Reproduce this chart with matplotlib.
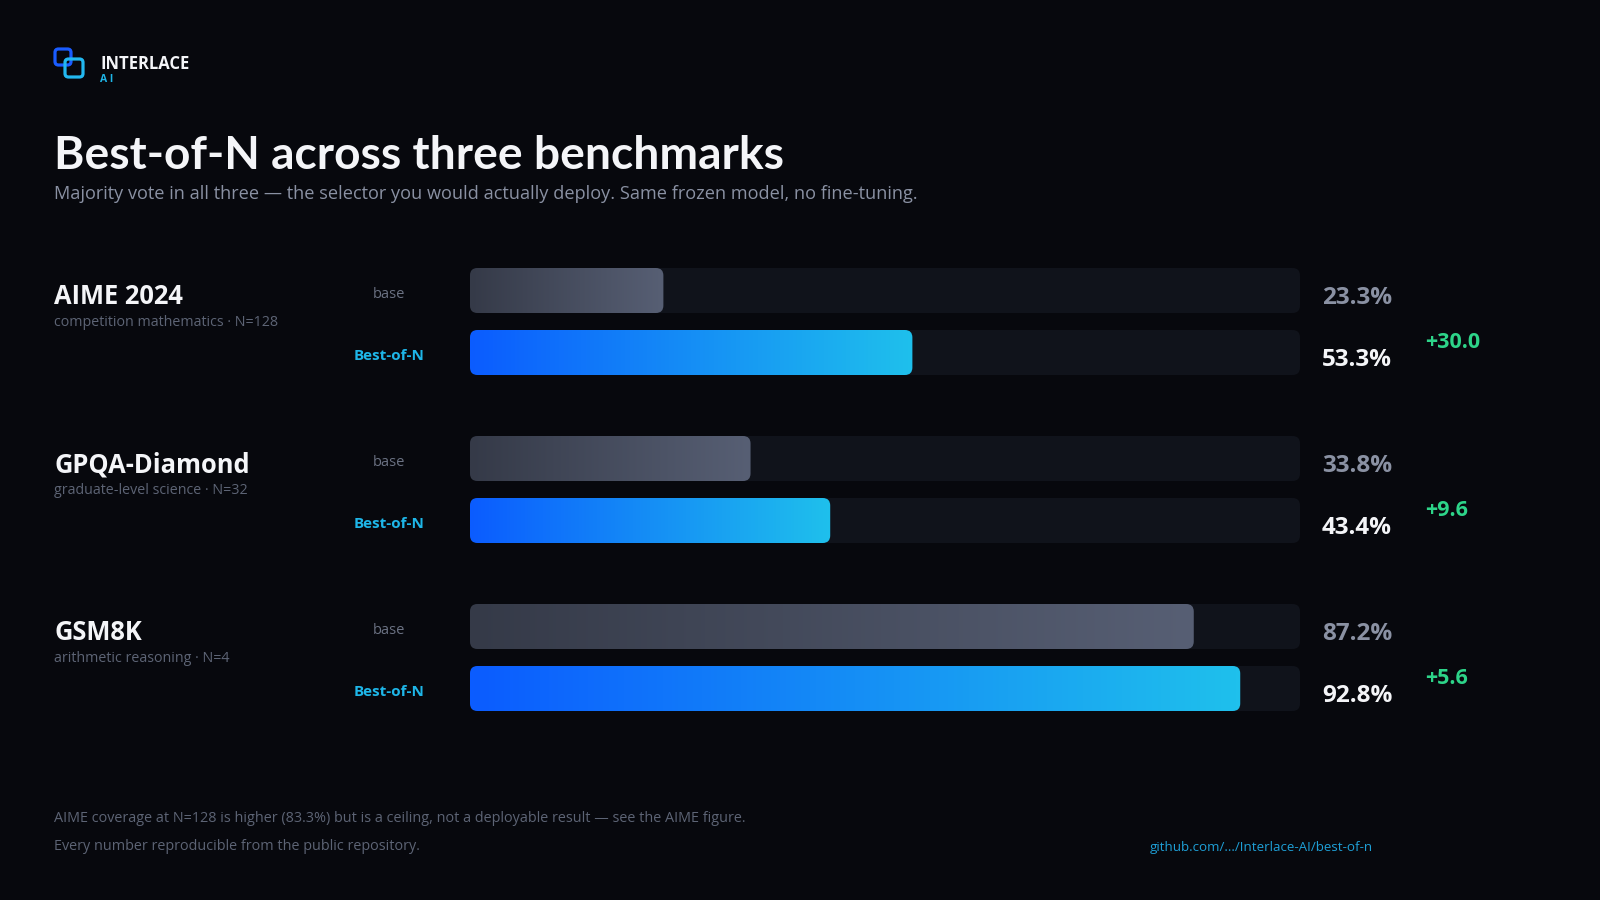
import matplotlib
import matplotlib.pyplot as plt
import numpy as np
from matplotlib.colors import LinearSegmentedColormap
from matplotlib.patches import FancyBboxPatch

matplotlib.use("Agg")

benchmarks = ["AIME 2024", "GPQA-Diamond", "GSM8K"]
descriptions = [
    "competition mathematics · N=128",
    "graduate-level science · N=32",
    "arithmetic reasoning · N=4",
]
base_scores = [23.3, 33.8, 87.2]
bestofn_scores = [53.3, 43.4, 92.8]

BG = "#07080d"
TRACK = "#10131b"
FONT = ["Open Sans", "DejaVu Sans"]

plt.rcParams["font.family"] = FONT

base_cmap = LinearSegmentedColormap.from_list("base", ["#353a48", "#575f74"])
best_cmap = LinearSegmentedColormap.from_list("best", ["#0b5cff", "#1fc0ec"])

fig = plt.figure(figsize=(16, 9), dpi=100, facecolor=BG)

# full-figure axes in pixel coords for text / decoration
ax_bg = fig.add_axes([0, 0, 1, 1])
ax_bg.set_xlim(0, 1600)
ax_bg.set_ylim(900, 0)
ax_bg.axis("off")
ax_bg.set_facecolor(BG)

# bar axes: x in percent, y in pixels from top
ax = fig.add_axes([470 / 1600, 0, 830 / 1600, 1])
ax.set_xlim(0, 100)
ax.set_ylim(900, 0)
ax.axis("off")
ax.patch.set_alpha(0)

px_per_unit = 830 / 100
radius = 7.5 / px_per_unit


def rounded(x, y, w, h, color):
    return FancyBboxPatch(
        (x, y), w, h,
        boxstyle=f"round,pad=0,rounding_size={radius}",
        mutation_aspect=px_per_unit,
        facecolor=color, edgecolor="none",
    )


def gradient_bar(value, y0, h, cmap):
    grad = np.linspace(0, 1, 256).reshape(1, -1)
    im = ax.imshow(grad, cmap=cmap, extent=(0, value, y0 + h, y0),
                   aspect="auto", interpolation="bilinear", zorder=2)
    clip = rounded(0, y0, value, h, "none")
    ax.add_patch(clip)
    clip.set_visible(False)
    im.set_clip_path(clip)


bar_h = 45
for i, name in enumerate(benchmarks):
    y0 = 268 + i * 168
    y1 = y0 + 62
    for yy in (y0, y1):
        ax.add_patch(rounded(0, yy, 100, bar_h, TRACK))
    gradient_bar(base_scores[i], y0, bar_h, base_cmap)
    gradient_bar(bestofn_scores[i], y1, bar_h, best_cmap)

    ax_bg.text(54, y0 + 29, name, color="#f4f5f8", fontsize=18.4,
               fontweight="bold", va="center", ha="left")
    ax_bg.text(54, y0 + 54, descriptions[i], color="#5d6475", fontsize=10.3,
               va="center", ha="left")
    ax_bg.text(389, y0 + 27, "base", color="#6b7283", fontsize=10.5,
               va="center", ha="center")
    ax_bg.text(389, y1 + 26, "Best-of-N", color="#1eb6e8", fontsize=11,
               fontweight="bold", va="center", ha="center")
    ax_bg.text(1322, y0 + 30, f"{base_scores[i]:.1f}%", color="#8a91a3",
               fontsize=17.5, fontweight="bold", va="center", ha="left")
    ax_bg.text(1322, y1 + 30, f"{bestofn_scores[i]:.1f}%", color="#f4f5f8",
               fontsize=17.5, fontweight="bold", va="center", ha="left")
    delta = bestofn_scores[i] - base_scores[i]
    ax_bg.text(1425, y0 + 74, f"+{delta:.1f}", color="#2dd489",
               fontsize=15.5, fontweight="bold", va="center", ha="left")

# logo
ax_bg.add_patch(FancyBboxPatch((55, 49), 16, 16,
                               boxstyle="round,pad=0,rounding_size=3.5",
                               facecolor="none", edgecolor="#1a5cff", lw=2.3))
ax_bg.add_patch(FancyBboxPatch((65, 59), 18, 18,
                               boxstyle="round,pad=0,rounding_size=3.5",
                               facecolor="none", edgecolor="#22b8f0", lw=2.3))
ax_bg.text(100, 64, "INTERLACE", color="#f4f5f8", fontsize=12,
           fontweight="bold", va="center", ha="left")
ax_bg.text(100, 80, "A I", color="#1eb6e8", fontsize=7.5,
           fontweight="bold", va="center", ha="left")

# title
ax_bg.text(54, 156, "Best-of-N across three benchmarks", color="#f4f5f8",
           fontsize=33.2, fontweight="bold", va="center", ha="left",
           family=["Lato", "DejaVu Sans"])
ax_bg.text(54, 194, "Majority vote in all three \u2014 the selector you would "
           "actually deploy. Same frozen model, no fine-tuning.",
           color="#8a91a3", fontsize=13.1, va="center", ha="left")

# footer
ax_bg.text(54, 819, "AIME coverage at N=128 is higher (83.3%) but is a ceiling, "
           "not a deployable result \u2014 see the AIME figure.",
           color="#5d6475", fontsize=10.35, va="center", ha="left")
ax_bg.text(54, 847, "Every number reproducible from the public repository.",
           color="#5d6475", fontsize=10.35, va="center", ha="left")
ax_bg.text(1150, 847, "github.com/.../Interlace-AI/best-of-n",
           color="#1e9fd6", fontsize=9.65, va="center", ha="left")

fig.savefig("out.png", dpi=100, facecolor=BG)
